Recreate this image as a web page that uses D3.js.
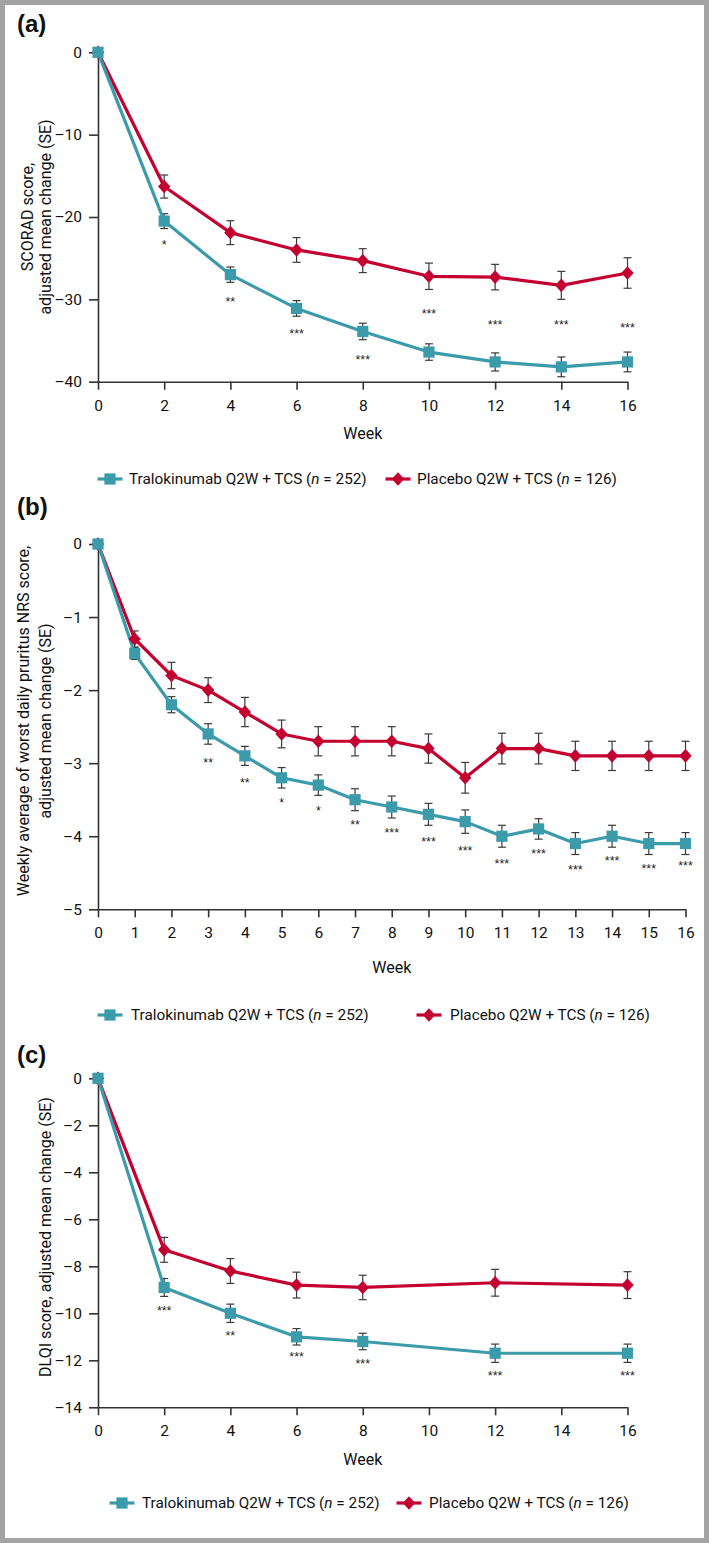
<!DOCTYPE html>
<html>
<head>
<meta charset="utf-8">
<script src="https://cdn.jsdelivr.net/npm/d3@7"></script>
<style>
  html, body { margin: 0; padding: 0; background: #fff; }
  svg { display: block; font-family: Roboto, "Liberation Sans", Arial, sans-serif; }
</style>
</head>
<body>
<script>
// ---------- DATA ----------
const seriesNames = ["Tralokinumab Q2W + TCS", "Placebo Q2W + TCS"];
const seriesN = [252, 126];

// Panel (a) SCORAD
const weeksA = [0, 2, 4, 6, 8, 10, 12, 14, 16];
const traloA = [0, -20.5, -27.0, -31.1, -33.9, -36.4, -37.6, -38.2, -37.6];
const traloSeA = [0, 0.9, 0.93, 0.95, 1.0, 1.0, 1.1, 1.2, 1.2];
const placeboA = [0, -16.3, -21.9, -24.0, -25.3, -27.2, -27.3, -28.3, -26.8];
const placeboSeA = [0, 1.4, 1.45, 1.5, 1.45, 1.6, 1.55, 1.7, 1.85];
const starsA = ["", "*", "**", "***", "***", "***", "***", "***", "***"];
const starValA = [null, -23.0, -29.9, -33.9, -36.95, -31.4, -32.8, -32.8, -33.1];
const xTicksA = [0, 2, 4, 6, 8, 10, 12, 14, 16];
const yTicksA = [0, -10, -20, -30, -40];
const yTickLabelsA = ["0", "\u201310", "\u201320", "\u201330", "\u201340"];

// Panel (b) pruritus NRS
const weeksB = [0, 1, 2, 3, 4, 5, 6, 7, 8, 9, 10, 11, 12, 13, 14, 15, 16];
const traloB = [0, -1.5, -2.2, -2.6, -2.9, -3.2, -3.3, -3.5, -3.6, -3.7, -3.8, -4.0, -3.9, -4.1, -4.0, -4.1, -4.1];
const traloSeB = [0, 0.08, 0.11, 0.14, 0.13, 0.14, 0.14, 0.15, 0.15, 0.15, 0.16, 0.15, 0.14, 0.15, 0.15, 0.15, 0.15];
const placeboB = [0, -1.3, -1.8, -2.0, -2.3, -2.6, -2.7, -2.7, -2.7, -2.8, -3.2, -2.8, -2.8, -2.9, -2.9, -2.9, -2.9];
const placeboSeB = [0, 0.11, 0.18, 0.17, 0.2, 0.19, 0.2, 0.2, 0.2, 0.2, 0.21, 0.21, 0.21, 0.2, 0.2, 0.2, 0.2];
const starsB = ["", "", "", "**", "**", "*", "*", "**", "***", "***", "***", "***", "***", "***", "***", "***", "***"];
const starValB = [null, null, null, -2.95, -3.23, -3.5, -3.62, -3.8, -3.91, -4.04, -4.16, -4.34, -4.2, -4.42, -4.3, -4.41, -4.37];
const xTicksB = [0, 1, 2, 3, 4, 5, 6, 7, 8, 9, 10, 11, 12, 13, 14, 15, 16];
const yTicksB = [0, -1, -2, -3, -4, -5];
const yTickLabelsB = ["0", "\u20131", "\u20132", "\u20133", "\u20134", "\u20135"];

// Panel (c) DLQI
const weeksC = [0, 2, 4, 6, 8, 12, 16];
const traloC = [0, -8.9, -10.0, -11.0, -11.2, -11.7, -11.7];
const traloSeC = [0, 0.38, 0.39, 0.35, 0.35, 0.39, 0.39];
const placeboC = [0, -7.3, -8.2, -8.8, -8.9, -8.7, -8.8];
const placeboSeC = [0, 0.53, 0.53, 0.55, 0.52, 0.57, 0.57];
const starsC = ["", "***", "**", "***", "***", "***", "***"];
const starValC = [null, -9.79, -10.85, -11.74, -12.03, -12.53, -12.53];
const xTicksC = [0, 2, 4, 6, 8, 10, 12, 14, 16];
const yTicksC = [0, -2, -4, -6, -8, -10, -12, -14];
const yTickLabelsC = ["0", "\u20132", "\u20134", "\u20136", "\u20138", "\u201310", "\u201312", "\u201314"];

// ---------- STYLE ----------
const TEAL = "#3b9bab";
const RED = "#c3002f";
const AXIS = "#333";
const FONT = "Roboto, 'Liberation Sans', Arial, sans-serif";
const W = 709, H = 1543;

const svg = d3.select("body").append("svg").attr("width", W).attr("height", H);
svg.append("rect").attr("x", 0).attr("y", 0).attr("width", W).attr("height", H).attr("fill", "#fff");
svg.append("rect").attr("x", 2.5).attr("y", 2.5).attr("width", W - 5).attr("height", H - 5)
  .attr("fill", "none").attr("stroke", "#a3a3a3").attr("stroke-width", 5);

const diamondPath = "M0,-6.8L6.2,0L0,6.8L-6.2,0Z";

function drawPanel(cfg) {
  const g = svg.append("g");
  const x = d3.scaleLinear().domain([0, 16]).range([cfg.x0, cfg.x1]);
  const y = d3.scaleLinear().domain([0, cfg.yMin]).range([cfg.y0, cfg.y1]);

  // panel label
  g.append("text").attr("x", 17).attr("y", cfg.labelY)
    .attr("font-size", 24).attr("font-weight", "bold").attr("fill", "#111")
    .attr("font-family", "'Liberation Sans', Arial, sans-serif")
    .text(cfg.label);

  // axes
  const xAxis = d3.axisBottom(x).tickValues(cfg.xTicks).tickSize(8).tickSizeOuter(0).tickPadding(10)
    .tickFormat(d => String(d));
  const gx = g.append("g").attr("transform", `translate(0,${cfg.y1})`).call(xAxis);
  const yAxis = d3.axisLeft(y).tickValues(cfg.yTicks).tickSize(9).tickSizeOuter(0).tickPadding(7)
    .tickFormat((d, i) => cfg.yTickLabels[i]);
  const gy = g.append("g").attr("transform", `translate(${cfg.x0},0)`).call(yAxis);
  [gx, gy].forEach(a => {
    a.selectAll("path").attr("stroke", AXIS).attr("stroke-width", 1.6);
    a.selectAll("line").attr("stroke", AXIS).attr("stroke-width", 1.6);
    a.selectAll("text").attr("font-size", 15.5).attr("fill", "#111").attr("font-family", FONT);
  });

  // x title
  g.append("text").attr("x", (cfg.x0 + cfg.x1) / 2).attr("y", cfg.weekY)
    .attr("text-anchor", "middle").attr("font-size", 16).attr("fill", "#111").text("Week");

  // y title
  cfg.yTitle.forEach((t, i) => {
    g.append("text")
      .attr("transform", `translate(${cfg.yTitleX[i]},${cfg.yTitleCY}) rotate(-90)`)
      .attr("text-anchor", "middle").attr("dominant-baseline", "central")
      .attr("font-size", 16).attr("fill", "#111").text(t);
  });

  const series = [
    { vals: cfg.placebo, se: cfg.placeboSe, color: RED, shape: "diamond" },
    { vals: cfg.tralo, se: cfg.traloSe, color: TEAL, shape: "square" }
  ];

  // error bars
  series.forEach(s => {
    const eb = g.append("g");
    cfg.weeks.forEach((w, i) => {
      if (!s.se[i]) return;
      const cx = x(w), top = y(s.vals[i] + s.se[i]), bot = y(s.vals[i] - s.se[i]);
      eb.append("line").attr("x1", cx).attr("x2", cx).attr("y1", top).attr("y2", bot)
        .attr("stroke", "#3a3a3a").attr("stroke-width", 1.2);
      [top, bot].forEach(yy => eb.append("line").attr("x1", cx - 4).attr("x2", cx + 4)
        .attr("y1", yy).attr("y2", yy).attr("stroke", "#3a3a3a").attr("stroke-width", 1.2));
    });
  });

  // lines + markers
  series.forEach(s => {
    const line = d3.line().x((d, i) => x(cfg.weeks[i])).y(d => y(d));
    g.append("path").datum(s.vals).attr("d", line).attr("fill", "none")
      .attr("stroke", s.color).attr("stroke-width", 3.2).attr("stroke-linejoin", "round");
  });
  series.forEach(s => {
    cfg.weeks.forEach((w, i) => {
      const cx = x(w), cy = y(s.vals[i]);
      if (s.shape === "square") {
        g.append("rect").attr("x", cx - 5.6).attr("y", cy - 5.6).attr("width", 11.2).attr("height", 11.2)
          .attr("fill", s.color);
      } else {
        g.append("path").attr("d", diamondPath).attr("transform", `translate(${cx},${cy})`)
          .attr("fill", s.color);
      }
    });
  });

  // significance stars
  cfg.weeks.forEach((w, i) => {
    if (!cfg.stars[i]) return;
    g.append("text").attr("x", x(w)).attr("y", y(cfg.starVal[i]) + 7)
      .attr("text-anchor", "middle").attr("font-size", 12.5).attr("fill", "#222")
      .attr("font-family", "'Liberation Sans', Arial, sans-serif").text(cfg.stars[i]);
  });

  // legend
  const lg = g.append("g");
  const items = [
    { color: TEAL, shape: "square", cx: cfg.leg[0], tx: cfg.leg[1], name: seriesNames[0], n: seriesN[0] },
    { color: RED, shape: "diamond", cx: cfg.leg[2], tx: cfg.leg[3], name: seriesNames[1], n: seriesN[1] }
  ];
  items.forEach(it => {
    lg.append("line").attr("x1", it.cx - 12.5).attr("x2", it.cx + 12.5).attr("y1", cfg.legY).attr("y2", cfg.legY)
      .attr("stroke", it.color).attr("stroke-width", 3.2);
    if (it.shape === "square") {
      lg.append("rect").attr("x", it.cx - 5.6).attr("y", cfg.legY - 5.6).attr("width", 11.2).attr("height", 11.2)
        .attr("fill", it.color);
    } else {
      lg.append("path").attr("d", diamondPath).attr("transform", `translate(${it.cx},${cfg.legY})`)
        .attr("fill", it.color);
    }
    const t = lg.append("text").attr("x", it.tx).attr("y", cfg.legY).attr("dominant-baseline", "central")
      .attr("font-size", 15.3).attr("fill", "#111");
    t.append("tspan").text(it.name + " (");
    t.append("tspan").attr("font-style", "italic").text("n");
    t.append("tspan").text(" = " + it.n + ")");
  });
}

drawPanel({
  label: "(a)", labelY: 32,
  x0: 98, x1: 627.5, y0: 52.3, y1: 381.7, yMin: -40,
  xTicks: xTicksA, yTicks: yTicksA, yTickLabels: yTickLabelsA,
  weeks: weeksA, tralo: traloA, traloSe: traloSeA, placebo: placeboA, placeboSe: placeboSeA,
  stars: starsA, starVal: starValA,
  weekY: 439,
  yTitle: ["SCORAD score,", "adjusted mean change (SE)"], yTitleX: [27, 45], yTitleCY: 217,
  legY: 479, leg: [110, 129, 398, 417]
});

drawPanel({
  label: "(b)", labelY: 514.5,
  x0: 98, x1: 685.5, y0: 544, y1: 909.3, yMin: -5,
  xTicks: xTicksB, yTicks: yTicksB, yTickLabels: yTickLabelsB,
  weeks: weeksB, tralo: traloB, traloSe: traloSeB, placebo: placeboB, placeboSe: placeboSeB,
  stars: starsB, starVal: starValB,
  weekY: 972.5,
  yTitle: ["Weekly average of worst daily pruritus NRS score,", "adjusted mean change (SE)"], yTitleX: [23, 45], yTitleCY: 721,
  legY: 1015, leg: [110, 131, 429, 450]
});

drawPanel({
  label: "(c)", labelY: 1062.5,
  x0: 98, x1: 627.5, y0: 1078.3, y1: 1407.3, yMin: -14,
  xTicks: xTicksC, yTicks: yTicksC, yTickLabels: yTickLabelsC,
  weeks: weeksC, tralo: traloC, traloSe: traloSeC, placebo: placeboC, placeboSe: placeboSeC,
  stars: starsC, starVal: starValC,
  weekY: 1465,
  yTitle: ["DLQI score, adjusted mean change (SE)"], yTitleX: [45], yTitleCY: 1237,
  legY: 1503, leg: [122, 142, 409, 429]
});
</script>
</body>
</html>
